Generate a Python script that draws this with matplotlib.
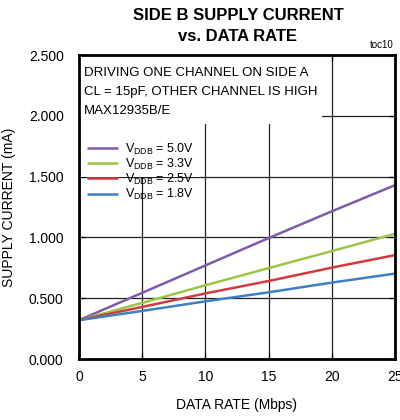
import matplotlib.pyplot as plt
from matplotlib.patches import Rectangle

# ---------------------------
# Data
# ---------------------------
rate = [0, 5, 10, 15, 20, 25]
i_50 = [0.32, 0.545, 0.77, 0.995, 1.215, 1.43]
i_33 = [0.32, 0.462, 0.607, 0.748, 0.888, 1.03]
i_25 = [0.32, 0.429, 0.540, 0.642, 0.752, 0.855]
i_18 = [0.32, 0.396, 0.475, 0.549, 0.629, 0.703]

labels = [r"V$_{\mathrm{DDB}}$ = 5.0V", r"V$_{\mathrm{DDB}}$ = 3.3V",
          r"V$_{\mathrm{DDB}}$ = 2.5V", r"V$_{\mathrm{DDB}}$ = 1.8V"]
colors = ["#7f5ca8", "#9dc545", "#d13b3d", "#3f80c4"]

xticks = [0, 5, 10, 15, 20, 25]
yticks = [0.0, 0.5, 1.0, 1.5, 2.0, 2.5]

plt.rcParams.update({
    "font.family": ["Liberation Sans", "DejaVu Sans"],
    "mathtext.fontset": "custom",
    "mathtext.rm": "Liberation Sans",
    "mathtext.it": "Liberation Sans",
    "font.size": 10,
})

fig = plt.figure(figsize=(4.0, 4.2), dpi=100)
ax = fig.add_axes([0.1975, 0.145, 0.79, 0.724])

for y, c, lab in zip([i_50, i_33, i_25, i_18], colors, labels):
    ax.plot(rate, y, color=c, lw=1.8, label=lab, zorder=4, solid_capstyle="butt")

ax.set_xlim(0, 25)
ax.set_ylim(0, 2.5)
ax.set_xticks(xticks)
ax.set_yticks(yticks)
ax.set_yticklabels([f"{v:.3f}" for v in yticks])
ax.grid(True, color="#222222", lw=0.9)
ax.tick_params(direction="in", length=4, width=0.9, top=True, right=True,
               labelsize=10)
ax.tick_params(axis="x", pad=8)
ax.tick_params(axis="y", pad=11)
for s in ax.spines.values():
    s.set_linewidth(2.0)
    s.set_zorder(6)

# white boxes that hide the grid behind the notes and the legend
ax.add_patch(Rectangle((0, 1.93), 19.2, 0.57, facecolor="white",
                       edgecolor="none", zorder=3))
ax.add_patch(Rectangle((0, 1.5), 9.6, 0.45, facecolor="white",
                       edgecolor="none", zorder=3))

ax.text(0.015, 0.96, "DRIVING ONE CHANNEL ON SIDE A\nCL = 15pF, OTHER CHANNEL IS HIGH\nMAX12935B/E",
        transform=ax.transAxes, ha="left", va="top", fontsize=9.5,
        linespacing=1.75, zorder=5)

leg = ax.legend(loc="upper left", bbox_to_anchor=(0.0, 0.74), frameon=False,
                fontsize=9, handlelength=2.5, handletextpad=0.6,
                labelspacing=0.0, borderaxespad=0.2)
leg.set_zorder(5)

ax.set_xlabel("DATA RATE (Mbps)", fontsize=10, labelpad=10)
ax.set_ylabel("SUPPLY CURRENT (mA)", fontsize=10, labelpad=9)

fig.text(0.595, 0.982, "SIDE B SUPPLY CURRENT\nvs. DATA RATE", ha="center",
         va="top", fontsize=12, fontweight="bold", linespacing=1.55)
fig.text(0.985, 0.882, "toc10", ha="right", va="bottom", fontsize=7)

fig.savefig("out.png", dpi=100, facecolor="white")
